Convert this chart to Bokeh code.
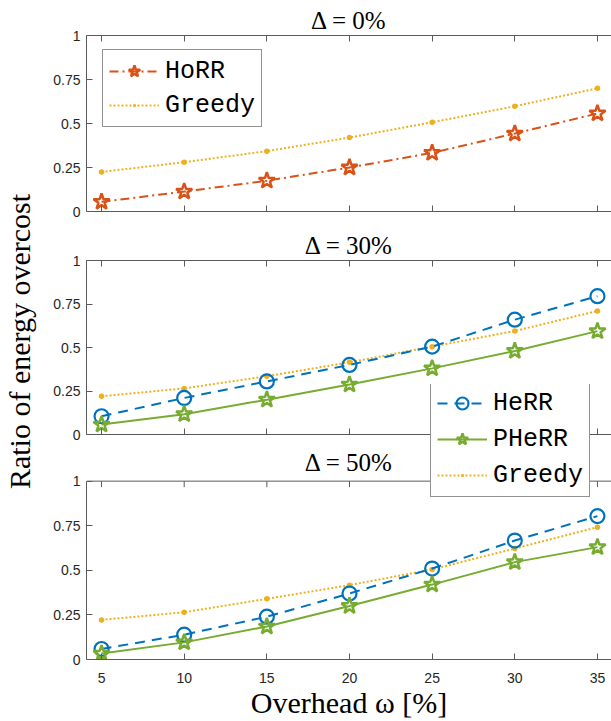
import math
from bokeh.plotting import figure
from bokeh.models import Range1d, FixedTicker, LinearAxis, Legend, LegendItem, Label, Span
from bokeh.layouts import row, column
from bokeh.embed import file_html
from bokeh.resources import INLINE

# ---------------- data ----------------
overhead = [5, 10, 15, 20, 25, 30, 35]
x_ticks = [5, 10, 15, 20, 25, 30, 35]
y_ticks = [0, 0.25, 0.5, 0.75, 1]
y_tick_labels = ["0", "0.25", "0.5", "0.75", "1"]
panel_titles = ["Δ = 0%", "Δ = 30%", "Δ = 50%"]

horr_d0 = [0.055, 0.113, 0.175, 0.25, 0.333, 0.443, 0.557]
greedy_d0 = [0.225, 0.28, 0.343, 0.42, 0.507, 0.598, 0.70]

herr_d30 = [0.105, 0.21, 0.305, 0.40, 0.505, 0.66, 0.795]
pherr_d30 = [0.057, 0.117, 0.20, 0.287, 0.38, 0.48, 0.594]
greedy_d30 = [0.22, 0.265, 0.335, 0.415, 0.505, 0.595, 0.71]

herr_d50 = [0.059, 0.139, 0.24, 0.37, 0.51, 0.667, 0.804]
pherr_d50 = [0.033, 0.096, 0.185, 0.30, 0.42, 0.546, 0.63]
greedy_d50 = [0.222, 0.265, 0.34, 0.417, 0.505, 0.622, 0.742]

y_label = "Ratio of energy overcost"
x_label = "Overhead ω [%]"

# ---------------- style ----------------
C_HORR = "#D95319"
C_GREEDY = "#EDB120"
C_HERR = "#0072BD"
C_PHERR = "#77AC30"
AX = "#5a5a5a"
TXT = "#262626"
SERIF = "Liberation Serif"
MONO = "Liberation Mono"
X_START, X_END = 4.09, 35.85


def hide_labels(ax):
    ax.major_label_text_font_size = "0px"
    ax.major_label_text_color = None
    ax.major_label_standoff = 0


def style_y(ax):
    ax.ticker = FixedTicker(ticks=y_ticks)
    ax.major_label_overrides = dict(zip(y_ticks, y_tick_labels))
    ax.minor_tick_line_color = None
    ax.major_tick_in = 6
    ax.major_tick_out = 0
    ax.major_label_standoff = 6
    ax.axis_line_color = AX
    ax.major_tick_line_color = AX
    ax.major_label_text_font = "Liberation Sans"
    ax.major_label_text_font_size = "14px"
    ax.major_label_text_color = TXT


def style_x(ax):
    ax.ticker = FixedTicker(ticks=x_ticks)
    ax.minor_tick_line_color = None
    ax.major_tick_in = 6
    ax.major_tick_out = 0
    ax.axis_line_color = AX
    ax.major_tick_line_color = AX
    ax.major_label_text_font = "Liberation Sans"
    ax.major_label_text_color = TXT


def base_fig(height, b_top, b_bottom, y_end, title):
    p = figure(width=571, height=height, title=title,
               x_range=Range1d(X_START, X_END), y_range=Range1d(0, y_end),
               output_backend="svg", toolbar_location=None,
               min_border_left=46, min_border_right=0,
               min_border_top=b_top, min_border_bottom=b_bottom)
    p.xgrid.visible = False
    p.ygrid.visible = False
    p.outline_line_color = None
    p.background_fill_color = None
    p.border_fill_color = None
    for ax in p.yaxis:
        style_y(ax)
    for ax in p.xaxis:
        style_x(ax)
    return p


def make_panel(title, height, b_top, b_bottom):
    p = base_fig(height, b_top, b_bottom, 1, title)
    p.title.text_font = SERIF
    p.title.text_font_size = "25px"
    p.title.text_font_style = "normal"
    p.title.text_color = "black"
    p.title.align = "center"
    p.title.standoff = 3
    for ax in p.xaxis:
        hide_labels(ax)
    top = LinearAxis(ticker=FixedTicker(ticks=x_ticks), major_tick_in=6, major_tick_out=0,
                     minor_tick_line_color=None, axis_line_color=AX, major_tick_line_color=AX)
    hide_labels(top)
    p.add_layout(top, "above")
    return p


def style_legend(p, items, loc, spacing):
    lg = Legend(items=items, location=loc, orientation="vertical",
                label_text_font=MONO, label_text_font_size="25px", label_text_color="black",
                glyph_width=50, glyph_height=30, label_standoff=6, spacing=spacing,
                padding=6, margin=0, border_line_color="#262626", border_line_width=1,
                background_fill_color="white", background_fill_alpha=1.0)
    p.add_layout(lg, "center")


# ---------------- panel 1 ----------------
f1 = make_panel(panel_titles[0], 223, 35, 12)
r1 = f1.line(overhead, horr_d0, color=C_HORR, line_width=2, line_dash="9 4 2 4")
s1 = f1.scatter(overhead, horr_d0, marker="star", size=17, fill_color=None,
                line_color=C_HORR, line_width=2.5)
g1 = f1.line(overhead, greedy_d0, color=C_GREEDY, line_width=2, line_dash="2 2")
gs1 = f1.scatter(overhead, greedy_d0, marker="dot", size=22, color=C_GREEDY)
style_legend(f1, [LegendItem(label="HoRR", renderers=[r1, s1]),
                  LegendItem(label="Greedy", renderers=[g1, gs1])], (16, 84), 4)

# ---------------- panel 2 ----------------
f2 = make_panel(panel_titles[1], 223, 37, 12)
f2.line(overhead, greedy_d30, color=C_GREEDY, line_width=2, line_dash="2 2")
f2.scatter(overhead, greedy_d30, marker="dot", size=22, color=C_GREEDY)
f2.line(overhead, herr_d30, color=C_HERR, line_width=2, line_dash="10 7")
f2.scatter(overhead, herr_d30, marker="circle", size=14, fill_color=None,
           line_color=C_HERR, line_width=2.2)
f2.line(overhead, pherr_d30, color=C_PHERR, line_width=2)
f2.scatter(overhead, pherr_d30, marker="star", size=17, fill_color=None,
           line_color=C_PHERR, line_width=2.5)

# ---------------- panel 3 (frame extended upward so the legend can overlap) ----------------
F3_PX = 179          # pixels for one unit of y in panel 3
F3_EXTRA = 97        # extra frame pixels above y = 1 (room for title and legend)
f3 = base_fig(339, 2, 61, 1 + F3_EXTRA / F3_PX, None)
for ax in f3.yaxis:
    ax.bounds = (0, 1)
for ax in f3.xaxis:
    ax.major_label_text_font_size = "14px"
    ax.major_label_standoff = 13
    ax.axis_label = x_label
    ax.axis_label_text_font = SERIF
    ax.axis_label_text_font_size = "30px"
    ax.axis_label_text_font_style = "normal"
    ax.axis_label_text_color = "black"
    ax.axis_label_standoff = 0
f3.add_layout(Span(location=1, dimension="width", line_color=AX, line_width=1))
f3.ray(x=x_ticks, y=[1] * len(x_ticks), length=6, length_units="screen",
       angle=-math.pi / 2, line_color=AX, line_width=1)
f3.add_layout(Label(x=(X_START + X_END) / 2, y=1 + 19 / F3_PX, text=panel_titles[2],
                    text_align="center", text_baseline="middle",
                    text_font=SERIF, text_font_size="25px", text_color="black"))

g3 = f3.line(overhead, greedy_d50, color=C_GREEDY, line_width=2, line_dash="2 2")
gs3 = f3.scatter(overhead, greedy_d50, marker="dot", size=22, color=C_GREEDY)
h3 = f3.line(overhead, herr_d50, color=C_HERR, line_width=2, line_dash="10 7")
hs3 = f3.scatter(overhead, herr_d50, marker="circle", size=14, fill_color=None,
                 line_color=C_HERR, line_width=2.2)
p3 = f3.line(overhead, pherr_d50, color=C_PHERR, line_width=2)
ps3 = f3.scatter(overhead, pherr_d50, marker="star", size=17, fill_color=None,
                 line_color=C_PHERR, line_width=2.5)
style_legend(f3, [LegendItem(label="HeRR", renderers=[h3, hs3]),
                  LegendItem(label="PHeRR", renderers=[p3, ps3]),
                  LegendItem(label="Greedy", renderers=[g3, gs3])], (344, 162), 6)
f3.margin = (-64, 0, 0, 0)

# ---------------- y label column ----------------
lab = figure(width=40, height=721, x_range=Range1d(0, 40), y_range=Range1d(0, 721),
             x_axis_location=None, y_axis_location=None, min_border=0,
             output_backend="svg", toolbar_location=None)
lab.outline_line_color = None
lab.grid.visible = False
lab.add_layout(Label(x=19, y=380, text=y_label, angle=math.pi / 2,
                     text_align="center", text_baseline="middle",
                     text_font=SERIF, text_font_size="30px", text_color="black"))

layout = row(lab, column(f1, f2, f3))

with open("out.html", "w") as fh:
    fh.write(file_html(layout, INLINE))
